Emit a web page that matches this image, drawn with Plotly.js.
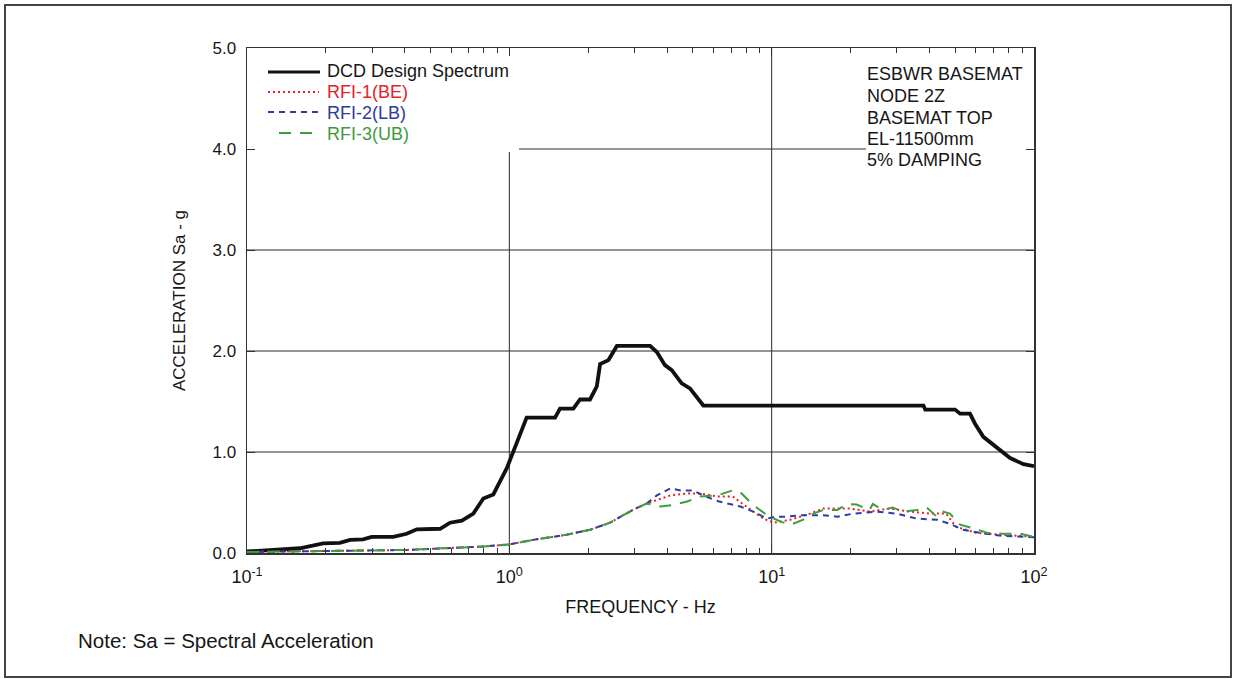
<!DOCTYPE html>
<html>
<head>
<meta charset="utf-8">
<script src="https://cdn.plot.ly/plotly-3.0.1.min.js"></script>
<style>
  html, body { margin: 0; padding: 0; background: #ffffff; }
  #chart { width: 1235px; height: 679px; }
</style>
</head>
<body>
<div id="chart"></div>
<script>
// Series names (legend labels)
const seriesNames = ['DCD Design Spectrum', 'RFI-1(BE)', 'RFI-2(LB)', 'RFI-3(UB)'];

// DCD design spectrum: frequency (Hz) and spectral acceleration (g)
const freqDCD = [0.1, 0.126, 0.159, 0.195, 0.226, 0.247, 0.277, 0.299, 0.361, 0.406, 0.444, 0.545,
  0.594, 0.659, 0.729, 0.796, 0.869, 0.978, 1.036, 1.164, 1.494, 1.56, 1.754, 1.86, 2.03, 2.155,
  2.218, 2.387, 2.57, 3.44, 3.65, 3.92, 4.16, 4.54, 4.88, 5.49, 37.9, 38.5, 50.0, 52.3, 57.0,
  59.6, 64.1, 72.1, 81.1, 91.2, 100];
const saDCD = [0.015, 0.03, 0.047, 0.096, 0.10, 0.13, 0.135, 0.16, 0.16, 0.19, 0.235, 0.24,
  0.30, 0.32, 0.39, 0.54, 0.58, 0.84, 1.0, 1.34, 1.34, 1.43, 1.43, 1.52, 1.52, 1.65,
  1.87, 1.91, 2.05, 2.05, 1.99, 1.86, 1.81, 1.68, 1.63, 1.46, 1.46, 1.42, 1.42, 1.38, 1.38,
  1.28, 1.15, 1.04, 0.94, 0.88, 0.86];

// RFI-1 (best estimate)
const freqRFI1 = [0.1, 0.2, 0.4, 0.6, 0.8, 1.0, 1.23, 1.65, 2.03, 2.42, 2.72, 2.97, 3.34, 3.65,
  4.11, 4.76, 5.34, 6.2, 7.1, 8.0, 9.3, 10.2, 11.8, 14.0, 15.7, 19.8, 23.6, 28.1, 33.5, 39.9,
  46.2, 50.4, 60.2, 76.3, 100];
const saRFI1 = [0.01, 0.02, 0.03, 0.05, 0.065, 0.085, 0.13, 0.18, 0.23, 0.30, 0.37, 0.43, 0.49, 0.525,
  0.57, 0.59, 0.59, 0.56, 0.56, 0.46, 0.34, 0.30, 0.33, 0.39, 0.44, 0.44, 0.41, 0.44, 0.41, 0.39,
  0.39, 0.26, 0.20, 0.18, 0.16];

// RFI-2 (lower bound)
const freqRFI2 = [0.1, 0.2, 0.4, 0.6, 0.8, 1.0, 1.23, 1.65, 2.03, 2.42, 2.72, 2.97, 3.34, 3.65,
  4.11, 4.5, 5.0, 5.6, 6.3, 7.6, 8.5, 9.6, 10.4, 11.4, 13.2, 15.4, 17.8, 20.5, 25.0, 29.9, 35.8,
  42.6, 47.8, 53.6, 64, 76, 100];
const saRFI2 = [0.01, 0.02, 0.03, 0.05, 0.065, 0.085, 0.13, 0.18, 0.23, 0.30, 0.37, 0.43, 0.49, 0.57,
  0.64, 0.62, 0.62, 0.56, 0.51, 0.46, 0.41, 0.34, 0.36, 0.36, 0.375, 0.375, 0.36, 0.39, 0.41, 0.39, 0.34,
  0.33, 0.29, 0.23, 0.195, 0.17, 0.155];

// RFI-3 (upper bound)
const freqRFI3 = [0.1, 0.2, 0.4, 0.6, 0.8, 1.0, 1.23, 1.65, 2.03, 2.42, 2.72, 2.97, 3.34, 3.77,
  4.2, 4.76, 5.34, 6.2, 7.1, 7.6, 8.5, 9.6, 10.8, 11.8, 13.2, 14.4, 15.7, 17.8, 19.3, 21.1, 23.6,
  24.3, 26.5, 28.9, 31.6, 35.8, 39.0, 42.6, 45.0, 47.8, 52.3, 58.7, 66.2, 76, 88.8, 100];
const saRFI3 = [0.01, 0.02, 0.03, 0.05, 0.065, 0.085, 0.13, 0.18, 0.23, 0.30, 0.37, 0.43, 0.49, 0.46,
  0.475, 0.51, 0.56, 0.57, 0.62, 0.60, 0.475, 0.375, 0.31, 0.28, 0.33, 0.39, 0.425, 0.425, 0.485, 0.48, 0.425,
  0.485, 0.425, 0.45, 0.41, 0.425, 0.45, 0.36, 0.41, 0.39, 0.28, 0.245, 0.20, 0.19, 0.19, 0.16];

// Axis ticks
const xTickVals = [0.1, 1, 10, 100];
const xTickText = ['10<sup>-1</sup>', '10<sup>0</sup>', '10<sup>1</sup>', '10<sup>2</sup>'];
const xMinorVals = [0.2, 0.3, 0.4, 0.5, 0.6, 0.7, 0.8, 0.9, 2, 3, 4, 5, 6, 7, 8, 9,
  20, 30, 40, 50, 60, 70, 80, 90];
const yTickVals = [0, 1, 2, 3, 4, 5];

// Annotation text block
const infoLines = ['ESBWR BASEMAT', 'NODE 2Z', 'BASEMAT TOP', 'EL-11500mm', '5% DAMPING'];
const noteText = 'Note: Sa = Spectral Acceleration';

const FONT = 'Liberation Sans, Arial, sans-serif';
const INK = '#161616';
const GRID = '#2a2a2a';

// Line styles per series
const styles = [
  { color: '#111111', width: 3.8, dash: 'solid', text: INK },
  { color: '#ee1c24', width: 2, dash: '2px,3px', text: '#e8202a' },
  { color: '#2e3ca8', width: 2, dash: '6px,5px', text: '#2e3a9e' },
  { color: '#3d9e3d', width: 2, dash: '12px,9px', text: '#3f9a3f' }
];
const seriesX = [freqDCD, freqRFI1, freqRFI2, freqRFI3];
const seriesY = [saDCD, saRFI1, saRFI2, saRFI3];

const traces = seriesNames.map((name, i) => ({
  x: seriesX[i], y: seriesY[i], name: name, type: 'scatter', mode: 'lines',
  line: { color: styles[i].color, width: styles[i].width, dash: styles[i].dash }
}));

// Plot area: left 247px, right 1034px, top 48px, bottom 553px
const L = 247, R = 1034, T = 48, B = 553, W = 1235, H = 679;
const px = v => (v - L) / (R - L);
const py = v => (B - v) / (B - T);

const shapes = [];
const annotations = [];

// Grid lines (broken where the legend and the info block sit)
const hLine = (yv, x0, x1) => shapes.push({ type: 'line', layer: 'below', xref: 'paper', yref: 'y',
  x0: x0, x1: x1, y0: yv, y1: yv, line: { color: GRID, width: 1 } });
const vLine = (xp, y0, y1) => shapes.push({ type: 'line', layer: 'below', xref: 'paper', yref: 'paper',
  x0: xp, x1: xp, y0: y0, y1: y1, line: { color: GRID, width: 1 } });
hLine(1, 0, 1); hLine(2, 0, 1); hLine(3, 0, 1);
hLine(4, px(519), px(866));
vLine(1 / 3, 0, py(152));   // 1 Hz
vLine(2 / 3, 0, 1);         // 10 Hz

// Legend: sample line + label per series
const legRowsLine = [72, 92, 112, 133];
const legRowsText = [71, 92.5, 113, 133.5];
const legX0 = [268, 268, 268, 279];
const legX1 = [320, 319, 319, 312];
seriesNames.forEach((name, i) => {
  shapes.push({ type: 'line', layer: 'above', xref: 'paper', yref: 'paper',
    x0: px(legX0[i]), x1: px(legX1[i]), y0: py(legRowsLine[i]), y1: py(legRowsLine[i]),
    line: { color: styles[i].color, width: i === 0 ? 3 : 2, dash: styles[i].dash } });
  annotations.push({ xref: 'paper', yref: 'paper', x: px(325), y: py(legRowsText[i]),
    xanchor: 'left', yanchor: 'middle', showarrow: false, text: name,
    font: { family: FONT, size: 18, color: styles[i].text } });
});

// Info block at the upper right
const infoRows = [74, 96, 117.5, 138.5, 159.5];
infoLines.forEach((t, i) => annotations.push({ xref: 'paper', yref: 'paper', x: px(865), y: py(infoRows[i]),
  xanchor: 'left', yanchor: 'middle', showarrow: false, text: t,
  font: { family: FONT, size: 18, color: INK } }));

// Footnote
annotations.push({ xref: 'paper', yref: 'paper', x: px(76), y: py(640), xanchor: 'left', yanchor: 'middle',
  showarrow: false, text: noteText, font: { family: FONT, size: 20.5, color: INK } });

// Outer frame around the figure
shapes.push({ type: 'rect', xref: 'paper', yref: 'paper', layer: 'above',
  x0: px(5), x1: px(1231), y0: py(677), y1: py(5),
  fillcolor: 'rgba(0,0,0,0)', line: { color: '#444444', width: 2 } });

const layout = {
  width: W, height: H,
  margin: { l: L, r: W - R, t: T, b: H - B },
  paper_bgcolor: '#ffffff', plot_bgcolor: '#ffffff',
  font: { family: FONT, size: 17, color: INK },
  showlegend: false,
  xaxis: {
    type: 'log', range: [-1, 2],
    tickmode: 'array', tickvals: xTickVals, ticktext: xTickText,
    ticks: 'inside', ticklen: 8, tickcolor: '#333', tickwidth: 1,
    showgrid: false,
    showline: true, linecolor: '#333', linewidth: 1.5, mirror: 'allticks',
    zeroline: false,
    tickfont: { family: FONT, size: 18, color: INK },
    ticklabelstandoff: 7,
    minor: { tickmode: 'array', tickvals: xMinorVals, ticks: 'inside', ticklen: 5,
             tickcolor: '#333', tickwidth: 1, showgrid: false },
    title: { text: 'FREQUENCY - Hz', font: { family: FONT, size: 18, color: INK }, standoff: 14 }
  },
  yaxis: {
    range: [0, 5], tickmode: 'array', tickvals: yTickVals, tickformat: '.1f',
    ticks: 'inside', ticklen: 8, tickcolor: '#333', tickwidth: 1,
    showgrid: false,
    showline: true, linecolor: '#333', linewidth: 1.5, mirror: 'allticks',
    zeroline: false,
    tickfont: { family: FONT, size: 17, color: INK },
    ticklabelstandoff: 6,
    title: { text: 'ACCELERATION Sa - g', font: { family: FONT, size: 17, color: INK }, standoff: 22 }
  },
  shapes: shapes,
  annotations: annotations
};

Plotly.newPlot('chart', traces, layout, { displayModeBar: false, staticPlot: true });
</script>
</body>
</html>
